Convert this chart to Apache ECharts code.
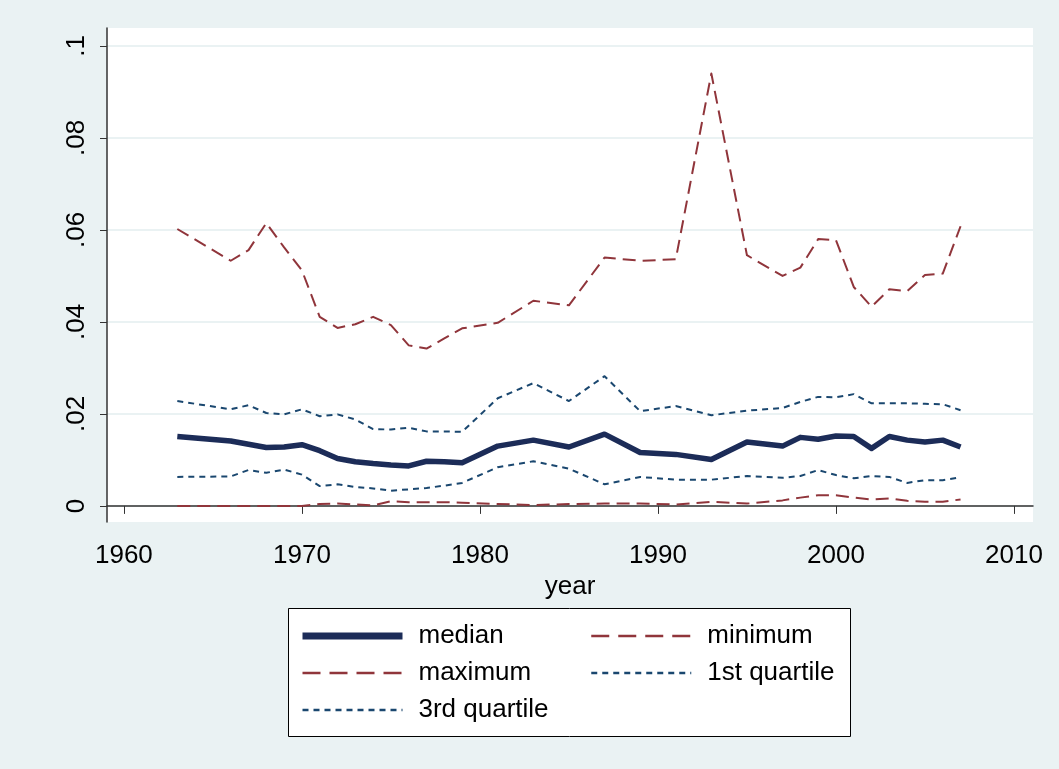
<!DOCTYPE html>
<html>
<head>
<meta charset="utf-8">
<script src="https://cdn.jsdelivr.net/npm/echarts@6/dist/echarts.min.js"></script>
<style>
  html, body { margin: 0; padding: 0; background: #eaf2f3; }
  #main { width: 1059px; height: 769px; }
</style>
</head>
<body>
<div id="main"></div>
<script>
// years with a data point (gaps are joined by straight lines)
const years = [1963, 1966, 1967, 1968, 1969, 1970, 1971, 1972, 1973, 1974, 1975, 1976, 1977, 1978, 1979,
  1981, 1983, 1985, 1987, 1989, 1991, 1993, 1995, 1997,
  1998, 1999, 2000, 2001, 2002, 2003, 2004, 2005, 2006, 2007];

const median = [.0151, .0141, .0134, .0127, .0128, .0133, .0120, .0103, .0096, .0092, .0089, .0087, .0097, .0096, .0094,
  .0130, .0143, .0128, .0156, .0116, .0112, .0101, .0139, .0130,
  .0149, .0145, .0152, .0151, .0125, .0151, .0143, .0139, .0143, .0128];

const minimum = [0, 0, 0, 0, 0, 0, .0004, .0005, .0003, .0001, .0010, .0008, .0008, .0008, .0007,
  .0004, .0002, .0004, .0005, .0005, .0003, .0009, .0005, .0012,
  .0018, .0023, .0023, .0018, .0014, .0016, .0011, .0009, .0009, .0014];

const maximum = [.0602, .0533, .0556, .0615, .0562, .0512, .0411, .0387, .0395, .0411, .0393, .0349, .0342, .0364, .0386,
  .0398, .0446, .0436, .0540, .0533, .0536, .0940, .0545, .0500,
  .0518, .0580, .0578, .0476, .0433, .0471, .0467, .0502, .0505, .0608];

const quartile1 = [.0063, .0064, .0078, .0072, .0079, .0068, .0043, .0047, .0041, .0038, .0033, .0036, .0039, .0044, .0050,
  .0084, .0097, .0081, .0047, .0063, .0057, .0057, .0065, .0061,
  .0065, .0078, .0067, .0060, .0065, .0063, .0050, .0056, .0056, .0062];

const quartile3 = [.0228, .0210, .0219, .0202, .0199, .0210, .0195, .0199, .0188, .0167, .0166, .0170, .0162, .0162, .0161,
  .0234, .0267, .0228, .0282, .0206, .0217, .0197, .0207, .0213,
  .0226, .0237, .0236, .0243, .0223, .0223, .0223, .0222, .0221, .0208];

const xTicks = [1960, 1970, 1980, 1990, 2000, 2010];
const yTicks = [0, 0.02, 0.04, 0.06, 0.08, 0.1];

const FONT = 'Liberation Sans, Arial, sans-serif';
const NAVY_DARK = '#1c2c58';
const NAVY = '#1a476f';
const MAROON = '#90353b';

function pairs(values) {
  return years.map((y, i) => [y, values[i]]);
}

function line(name, values, color, width, dash, z) {
  return {
    name: name,
    type: 'line',
    data: pairs(values),
    symbol: 'none',
    z: z,
    lineStyle: { color: color, width: width, type: dash, cap: 'butt', join: 'round' },
    itemStyle: { color: color }
  };
}

// legend entry: line only, no marker
function key(name, color, width, dash) {
  return {
    name: name,
    itemStyle: { opacity: 0 },
    lineStyle: { color: color, width: width, type: dash, opacity: 1 }
  };
}

const legendText = { fontSize: 26, color: '#000', fontFamily: FONT, padding: [0, 0, 0, 11] };

const chart = echarts.init(document.getElementById('main'));

chart.setOption({
  backgroundColor: '#eaf2f3',
  animation: false,
  textStyle: { fontFamily: FONT },
  grid: {
    left: 107, top: 28, right: 26, bottom: 247,
    show: true, backgroundColor: '#ffffff', borderWidth: 0
  },
  xAxis: {
    type: 'value',
    min: 1959.05,
    max: 2011.07,
    name: 'year',
    nameLocation: 'middle',
    nameGap: 44,
    nameTextStyle: { fontSize: 26, color: '#000', fontFamily: FONT },
    axisLine: { lineStyle: { color: '#333', width: 1.5 } },
    axisTick: { customValues: xTicks, length: 8, lineStyle: { color: '#333', width: 1 } },
    axisLabel: {
      customValues: xTicks, fontSize: 26, color: '#000', margin: 21, fontFamily: FONT,
      formatter: v => String(Math.round(v))
    },
    splitLine: { show: false }
  },
  yAxis: {
    type: 'value',
    min: -0.0035,
    max: 0.1039,
    axisLine: { show: true, lineStyle: { color: '#333', width: 1.5 } },
    axisTick: { show: true, customValues: yTicks, length: 7, lineStyle: { color: '#333', width: 1 } },
    axisLabel: {
      customValues: yTicks, fontSize: 26, color: '#000', rotate: 90, margin: 17, fontFamily: FONT,
      formatter: v => v === 0 ? '0' : String(+v.toFixed(4)).replace(/^0/, '')
    },
    splitLine: { show: true, lineStyle: { color: '#eaf2f3', width: 2 } }
  },
  graphic: [{
    type: 'rect',
    z: 0,
    shape: { x: 288.5, y: 608.5, width: 562, height: 128 },
    style: { fill: '#ffffff', stroke: '#000000', lineWidth: 1 }
  }],
  legend: [{
    orient: 'vertical',
    left: 299, top: 623,
    padding: 0,
    z: 10,
    itemWidth: 100, itemHeight: 26, itemGap: 11,
    data: [
      key('median', NAVY_DARK, 7, 'solid'),
      key('maximum', MAROON, 2.5, [18, 9]),
      key('3rd quartile', NAVY, 2.5, [6, 5])
    ],
    textStyle: legendText
  }, {
    orient: 'vertical',
    left: 590, top: 623,
    padding: 0,
    z: 10,
    itemWidth: 100, itemHeight: 26, itemGap: 11,
    data: [
      key('minimum', MAROON, 2.5, [18, 9]),
      key('1st quartile', NAVY, 2.5, [6, 5])
    ],
    textStyle: legendText
  }],
  series: [
    line('median', median, NAVY_DARK, 5.5, 'solid', 5),
    line('minimum', minimum, MAROON, 2, [13, 7], 3),
    line('maximum', maximum, MAROON, 2, [13, 7], 3),
    line('1st quartile', quartile1, NAVY, 2, [6, 5], 4),
    line('3rd quartile', quartile3, NAVY, 2, [6, 5], 4)
  ]
});
</script>
</body>
</html>
